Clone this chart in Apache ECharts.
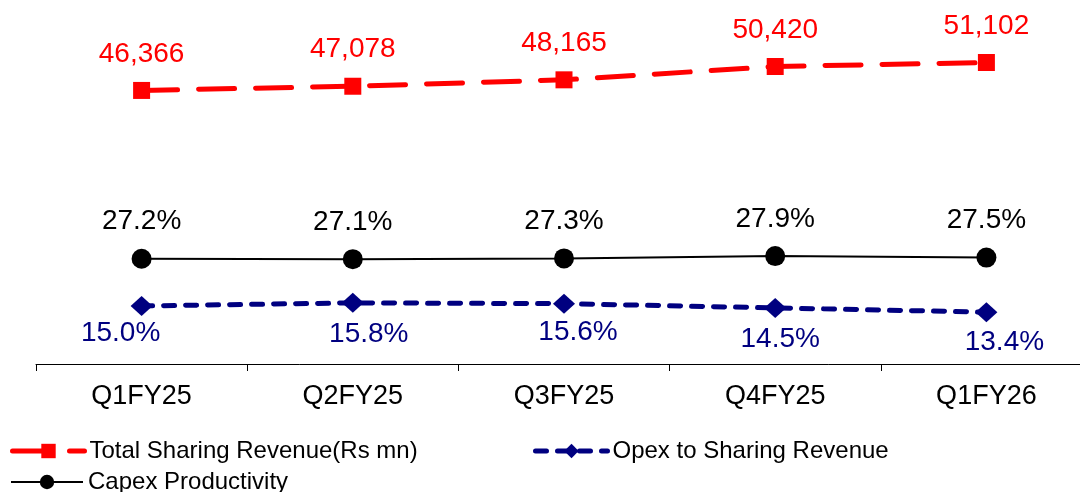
<!DOCTYPE html>
<html>
<head>
<meta charset="utf-8">
<script src="https://cdn.jsdelivr.net/npm/echarts@6/dist/echarts.min.js"></script>
<style>html,body{margin:0;padding:0;background:#fff;overflow:hidden;width:1080px;height:492px;}#c{width:1092px;height:492px;}</style>
</head>
<body>
<div id="c"></div>
<script>
const categories = ['Q1FY25', 'Q2FY25', 'Q3FY25', 'Q4FY25', 'Q1FY26'];
const revenue = [46366, 47078, 48165, 50420, 51102];
const capexProductivity = [27.2, 27.1, 27.3, 27.9, 27.5];
const opexRatio = [15.0, 15.8, 15.6, 14.5, 13.4];
const seriesNames = ['Total Sharing Revenue(Rs mn)', 'Opex to Sharing Revenue', 'Capex Productivity'];

// label nudges for the opex labels (layout only)
const opexLabelShift = [[-21, 0], [16, 4], [14, 2], [5, 4], [18, 3]];

const FONT = '"Liberation Sans", Arial, sans-serif';
const chart = echarts.init(document.getElementById('c'), null, {renderer: 'canvas'});

const legendBase = {
  orient: 'horizontal', itemWidth: 72, itemHeight: 18, itemGap: 6,
  textStyle: {fontFamily: FONT, fontSize: 24, color: '#000'}, padding: 0
};

chart.setOption({
  animation: false,
  backgroundColor: '#fff',
  grid: {left: 36, top: 10, right: 0, height: 354, containLabel: false},
  xAxis: {
    type: 'category', data: categories, boundaryGap: true,
    axisLine: {lineStyle: {color: '#000', width: 1}},
    axisTick: {show: true, length: 7, lineStyle: {color: '#000'}},
    axisLabel: {fontFamily: FONT, fontSize: 27, color: '#000', margin: 19}
  },
  yAxis: [
    {type: 'value', min: 0, max: 60000, show: false, splitLine: {show: false}},
    {type: 'value', min: 0, max: 91.5, show: false, splitLine: {show: false}}
  ],
  legend: [
    Object.assign({}, legendBase, {left: 10, top: 439, data: [seriesNames[0]], lineStyle: {width: 5}}),
    Object.assign({}, legendBase, {left: 533, top: 439, data: [seriesNames[1]], lineStyle: {width: 5}}),
    Object.assign({}, legendBase, {left: 10, top: 470, data: [seriesNames[2]], lineStyle: {width: 2}})
  ],
  series: [
    {
      name: seriesNames[0], type: 'line', yAxisIndex: 0, data: revenue,
      symbol: 'rect', symbolSize: 17,
      itemStyle: {color: '#ff0000'},
      lineStyle: {color: '#ff0000', width: 5, type: [36, 21], cap: 'round'},
      label: {show: true, position: 'top', distance: 14, fontFamily: FONT, fontSize: 28, color: '#ff0000',
        formatter: p => p.value.toLocaleString('en-US')}
    },
    {
      name: seriesNames[1], type: 'line', yAxisIndex: 1,
      data: opexRatio.map((v, i) => ({value: v, label: {offset: opexLabelShift[i]}})),
      symbol: 'diamond', symbolSize: [22, 20],
      itemStyle: {color: '#000080'},
      lineStyle: {color: '#000080', width: 5, type: [11, 11], cap: 'round'},
      label: {show: true, position: 'bottom', distance: 3, fontFamily: FONT, fontSize: 28, color: '#000080',
        formatter: p => p.value.toFixed(1) + '%'}
    },
    {
      name: seriesNames[2], type: 'line', yAxisIndex: 1, data: capexProductivity,
      symbol: 'circle', symbolSize: 20,
      itemStyle: {color: '#000'},
      lineStyle: {color: '#000', width: 2},
      label: {show: true, position: 'top', distance: 13, fontFamily: FONT, fontSize: 28, color: '#000',
        formatter: p => p.value.toFixed(1) + '%'}
    }
  ]
});
</script>
</body>
</html>
